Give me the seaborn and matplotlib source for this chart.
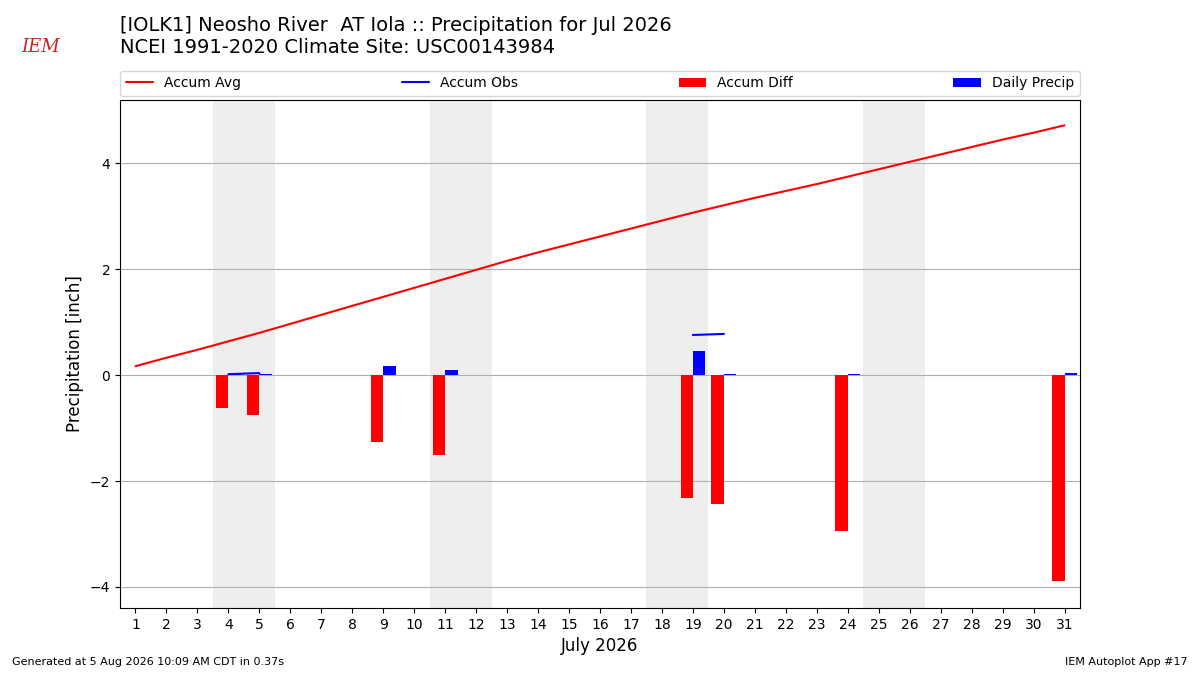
import seaborn as sns
import matplotlib.pyplot as plt
import numpy as np
import pandas as pd

days = list(range(1, 32))
accum_avg = [0.17, 0.33, 0.48, 0.64, 0.80, 0.97, 1.14, 1.31, 1.48, 1.65,
             1.82, 1.99, 2.16, 2.32, 2.47, 2.62, 2.77, 2.92, 3.07, 3.21,
             3.35, 3.48, 3.61, 3.75, 3.89, 4.03, 4.17, 4.31, 4.45, 4.58, 4.72]
obs_days = [4, 5, 9, 11, 19, 20, 24, 31]
daily_precip = [0.02, 0.02, 0.18, 0.09, 0.45, 0.02, 0.02, 0.04]
weekend_days = [4, 11, 18, 25]

df = pd.DataFrame({"day": days, "avg": accum_avg})
obs = pd.DataFrame({"day": obs_days, "precip": daily_precip})
obs["accum"] = obs["precip"].cumsum()
df = df.merge(obs, on="day", how="left")
df["diff"] = df["accum"] - df["avg"]

sns.set_style("ticks", {"axes.edgecolor": "black", "xtick.color": "black",
                        "ytick.color": "black", "text.color": "black",
                        "axes.labelcolor": "black", "patch.edgecolor": "none"})

fig = plt.figure(figsize=(12, 6.75), dpi=100)
ax = fig.add_axes([0.1, 0.099, 0.8, 0.753])

# weekends shaded
for d in weekend_days:
    ax.axvspan(d - 0.5, d + 1.5, color="#eeeeee", zorder=0, lw=0)

sns.lineplot(data=df, x="day", y="avg", color="red", lw=1.5, ax=ax, zorder=3)
ax.plot(df["day"], df["accum"], color="blue", lw=1.5, zorder=3)
ax.bar(df["day"], df["diff"], width=-0.4, align="edge", color="red",
       edgecolor="none", lw=0, zorder=2)
ax.bar(df["day"], df["precip"], width=0.4, align="edge", color="blue",
       edgecolor="none", lw=0, zorder=2)

ax.set_xlim(0.5, 31.5)
ax.set_ylim(-4.4, 5.2)
ax.set_xticks(days)
ax.set_yticks([-4, -2, 0, 2, 4])
ax.set_yticklabels(["\u22124", "\u22122", "0", "2", "4"])
ax.tick_params(labelsize=10, colors="black")
ax.yaxis.grid(True, color="#b0b0b0", lw=0.8, zorder=1)
ax.set_axisbelow(True)
ax.set_xlabel("July 2026", fontsize=12, color="black")
ax.set_ylabel("Precipitation [inch]", fontsize=12, color="black")

handles = [
    plt.Line2D([], [], color="red", lw=1.5),
    plt.Line2D([], [], color="blue", lw=1.5),
    plt.Rectangle((0, 0), 1, 1, color="red", lw=0),
    plt.Rectangle((0, 0), 1, 1, color="blue", lw=0),
]
labels = ["Accum Avg", "Accum Obs", "Accum Diff", "Daily Precip"]
leg = ax.legend(handles, labels, ncol=4, mode="expand", loc="lower left",
                bbox_to_anchor=(0, 1.008, 1, 0.05), borderaxespad=0, fontsize=10)
for t in leg.get_texts():
    t.set_color("black")

fig.text(0.1, 0.962, "[IOLK1] Neosho River  AT Iola :: Precipitation for Jul 2026",
         fontsize=14, va="center", color="black")
fig.text(0.1, 0.929, "NCEI 1991-2020 Climate Site: USC00143984", fontsize=14,
         va="center", color="black")
fig.text(0.018, 0.93, "IEM", color="#cc2222", fontsize=13, family="serif",
         style="italic", va="center")
fig.text(0.01, 0.015, "Generated at 5 Aug 2026 10:09 AM CDT in 0.37s", fontsize=8,
         color="black")
fig.text(0.99, 0.015, "IEM Autoplot App #17", fontsize=8, ha="right", color="black")

fig.savefig("out.png", dpi=100)
